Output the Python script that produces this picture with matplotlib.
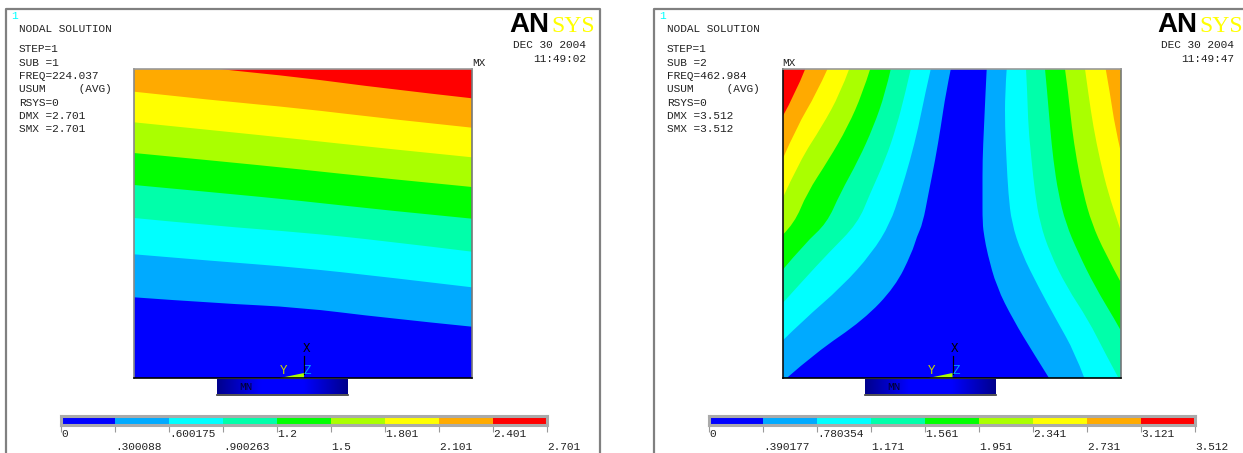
import numpy as np
import matplotlib
matplotlib.use("Agg")
import matplotlib.pyplot as plt
from matplotlib.colors import LinearSegmentedColormap
from matplotlib.patches import PathPatch
from matplotlib.path import Path

W, H = 1243, 453

# contour colours, lowest band first
band_colors = ['#0000ff', '#00aaff', '#00ffff', '#00ffaa', '#00ff00',
               '#aaff00', '#ffff00', '#ffaa00', '#ff0000']

# left plot: depth of each band edge below the top of the plate
sub1_x = [0, 83, 166, 249, 338]
sub1_edges = [
    [228.3, 234.3, 238.3, 248.7, 257.7],
    [185.3, 192.3, 198.7, 207.7, 218.3],
    [149.0, 157.0, 163.3, 171.7, 182.7],
    [116.0, 123.7, 131.7, 141.0, 149.7],
    [84.0, 92.0, 100.3, 109.3, 118.0],
    [53.3, 61.7, 70.3, 79.3, 88.3],
    [22.7, 31.7, 39.3, 49.3, 58.7],
    [-10.0, 0.0, 8.3, 19.3, 29.3],
]

# right plot: band edges as (x, depth), left hand family
sub2_left_x = [
    [168.3, 163.3, 158.3, 152.7, 146.0, 140.3, 134.3, 129.3, 112.7, 81.0, 32.7, 4.3],
    [148.3, 142.7, 136.0, 127.7, 117.7, 107.7, 89.3, 59.3, 21.0, 0.0],
    [128.3, 122.7, 114.0, 102.7, 87.7, 75.3, 46.0, 21.0, 0.0],
    [108.3, 102.7, 91.0, 76.0, 57.7, 44.3, 22.7, 0.0],
    [87.7, 80.0, 65.3, 46.0, 24.3, 12.0, 0.0],
    [66.7, 57.7, 39.3, 17.7, 0.0],
    [45.0, 34.0, 14.3, 0.0],
    [22.7, 13.0, 0.0],
]
sub2_left_d = [
    [0, 24.3, 57.7, 91.0, 124.3, 154.3, 167.7, 184.0, 217.7, 251.0, 284.0, 309.0],
    [0, 24.3, 57.7, 91.0, 124.3, 154.3, 184.3, 217.7, 251.0, 271.7],
    [0, 24.3, 57.7, 91.0, 124.3, 154.3, 184.0, 211.0, 234.3],
    [0, 24.3, 57.7, 91.0, 124.3, 154.3, 174.0, 201.0],
    [0, 24.3, 57.7, 91.0, 124.3, 154.3, 166.0],
    [0, 24.3, 57.7, 91.0, 129.3],
    [0, 24.3, 57.7, 90.3],
    [0, 24.3, 47.7],
]

# right hand family, no red band on this side
sub2_right_x = [
    [204.2, 203.0, 201.5, 200.0, 200.0, 200.0, 201.8, 204.8, 214.0, 230.8, 250.8, 266.5],
    [224.2, 222.5, 222.5, 224.0, 225.8, 229.2, 239.0, 255.8, 274.0, 292.5, 301.8],
    [243.5, 244.8, 245.8, 249.0, 252.5, 257.5, 267.5, 284.0, 305.8, 322.5, 336.0],
    [262.5, 264.8, 267.5, 270.8, 275.8, 283.2, 295.8, 312.5, 332.5, 338.0],
    [282.5, 285.8, 289.2, 294.2, 300.8, 309.2, 322.5, 338.0],
    [302.5, 305.8, 310.8, 317.5, 325.8, 335.8, 338.0],
    [323.2, 327.5, 332.5, 338.0],
]
sub2_right_d = [
    [0, 24.3, 57.7, 91.0, 124.3, 154.3, 167.7, 184.0, 217.7, 251.0, 284.0, 309.0],
    [0, 24.3, 57.7, 91.0, 124.3, 154.3, 184.0, 217.7, 251.0, 284.0, 309.0],
    [0, 24.3, 57.7, 91.0, 124.3, 154.3, 184.0, 217.7, 251.0, 284.0, 309.0],
    [0, 24.3, 57.7, 91.0, 124.3, 154.3, 184.0, 217.7, 251.0, 261.0],
    [0, 24.3, 57.7, 91.0, 124.3, 154.3, 184.0, 212.7],
    [0, 24.3, 57.7, 91.0, 124.3, 154.3, 161.0],
    [0, 24.3, 57.7, 81.7],
]

# legend levels
sub1_levels = [0, 0.300088, 0.600175, 0.900263, 1.2, 1.5, 1.801, 2.101, 2.401, 2.701]
sub1_labels = ['0', '.300088', '.600175', '.900263', '1.2', '1.5', '1.801', '2.101', '2.401', '2.701']
sub2_levels = [0, 0.390177, 0.780354, 1.171, 1.561, 1.951, 2.341, 2.731, 3.121, 3.512]
sub2_labels = ['0', '.390177', '.780354', '1.171', '1.561', '1.951', '2.341', '2.731', '3.121', '3.512']

sub1_header = ['STEP=1', 'SUB =1', 'FREQ=224.037', 'USUM     (AVG)', 'RSYS=0', 'DMX =2.701', 'SMX =2.701']
sub2_header = ['STEP=1', 'SUB =2', 'FREQ=462.984', 'USUM     (AVG)', 'RSYS=0', 'DMX =3.512', 'SMX =3.512']
header_rows = [49.5, 63, 76, 89.5, 103, 116, 129.5]

MONO = 'Liberation Mono'
INK = '#222222'

fig = plt.figure(figsize=(W / 100, H / 100), dpi=100, facecolor='white')

# page layer in pixel units, used for frames and annotation text
page = fig.add_axes([0, 0, 1, 1])
page.set_xlim(0, W)
page.set_ylim(H, 0)
page.axis('off')


def px_axes(x0, y0, x1, y1):
    return fig.add_axes([x0 / W, 1 - y1 / H, (x1 - x0) / W, (y1 - y0) / H])


def fill_past_edge(ax, xs, ds, closing, color):
    # the edge runs as a soft curve, then the closing corners are joined straight
    verts = [(xs[0], ds[0])]
    codes = [Path.MOVETO]
    n = len(xs)
    for i in range(1, n - 1):
        if i < n - 2:
            end = ((xs[i] + xs[i + 1]) / 2, (ds[i] + ds[i + 1]) / 2)
        else:
            end = (xs[-1], ds[-1])
        verts += [(xs[i], ds[i]), end]
        codes += [Path.CURVE3, Path.CURVE3]
    if n == 2:
        verts.append((xs[1], ds[1]))
        codes.append(Path.LINETO)
    for corner in closing:
        verts.append(corner)
        codes.append(Path.LINETO)
    verts.append(verts[0])
    codes.append(Path.CLOSEPOLY)
    ax.add_patch(PathPatch(Path(verts, codes), facecolor=color, edgecolor='none', lw=0))


def draw_plate(x0, fill_plate, left_color):
    ax = px_axes(x0, 69, x0 + 338, 378)
    ax.set_xlim(0, 338)
    ax.set_ylim(309, 0)
    ax.set_xticks([])
    ax.set_yticks([])
    ax.set_facecolor(band_colors[0])
    fill_plate(ax)
    ax.spines['top'].set_color('#999999')
    ax.spines['bottom'].set_color('black')
    ax.spines['left'].set_color(left_color)
    ax.spines['right'].set_color('#777777')
    for side in ax.spines.values():
        side.set_linewidth(1.2)
    return ax


def fill_sub1(ax):
    # paint from the top band down, each layer covers what lies below its edge
    ax.fill_between(sub1_x, 0, 309, color=band_colors[8], lw=0)
    for k in range(7, -1, -1):
        fill_past_edge(ax, sub1_x, sub1_edges[k], [(338, 309), (0, 309)], band_colors[k])


def fill_sub2(ax):
    for k in range(8):
        closing = [(0, sub2_left_d[k][-1]), (0, 0)]
        fill_past_edge(ax, sub2_left_x[k], sub2_left_d[k], closing, band_colors[k + 1])
    for k in range(7):
        closing = [(338, sub2_right_d[k][-1]), (338, 0)]
        fill_past_edge(ax, sub2_right_x[k], sub2_right_d[k], closing, band_colors[k + 1])


def draw_legend(x0, levels, labels):
    ax = px_axes(x0, 416, x0 + 486, 425)
    ax.set_xlim(levels[0], levels[-1])
    ax.set_ylim(0, 1)
    ax.set_yticks([])
    ax.barh(0.5, np.diff(levels), left=levels[:-1], height=1, color=band_colors, lw=0)
    ax.set_xticks(levels)
    ax.set_xticklabels([])
    ax.tick_params(axis='x', length=5, width=0.8, color='#999999')
    for side in ax.spines.values():
        side.set_color('#aaaaaa')
        side.set_linewidth(2.2)
    trans = ax.get_xaxis_transform()
    for i, (lev, lab) in enumerate(zip(levels, labels)):
        row = -1.05 if i % 2 == 0 else -2.45
        ax.text(lev, row, lab, transform=trans, family=MONO, fontsize=8,
                color=INK, ha='left', va='center', clip_on=False)


def draw_page_notes(dx, header, date_time, mx_x):
    # drawing frame, open at the bottom of the page
    frame_x = [6 + dx, 6 + dx, 600 + dx, 600 + dx]
    page.plot(frame_x, [H, 9, 9, H], color='#808080', lw=1.6, clip_on=True)

    page.text(11 + dx, 16, '1', color='#00ffff', family=MONO, fontsize=8, va='center')
    page.text(19 + dx, 29, 'NODAL SOLUTION', color=INK, family=MONO, fontsize=8, va='center')
    for row, line in zip(header_rows, header):
        page.text(19 + dx, row, line, color=INK, family=MONO, fontsize=8, va='center')

    page.text(586 + dx, 45.5, date_time[0], color=INK, family=MONO, fontsize=8, ha='right', va='center')
    page.text(586 + dx, 59, date_time[1], color=INK, family=MONO, fontsize=8, ha='right', va='center')
    page.text(mx_x, 62.5, 'MX', color=INK, family=MONO, fontsize=8, va='center')

    # logo
    page.text(509 + dx, 32, 'AN', color='black', family='Liberation Sans', fontweight='bold',
              fontsize=20, ha='left', va='baseline')
    page.text(551.5 + dx, 32, 'SYS', color='#ffff00', family='Liberation Serif',
              fontsize=17, ha='left', va='baseline')


def draw_support(dx):
    # dark edged strip under the plate
    strip = px_axes(217 + dx, 379, 348 + dx, 394.5)
    shade = LinearSegmentedColormap.from_list('shade', ['#00008c', '#0000ff', '#0000ff', '#00008c'])
    strip.imshow(np.linspace(0, 1, 128)[None, :], cmap=shade, aspect='auto')
    strip.set_xticks([])
    strip.set_yticks([])
    for name, side in strip.spines.items():
        side.set_visible(name == 'bottom')
    strip.spines['bottom'].set_color('#333333')
    strip.spines['bottom'].set_linewidth(1.2)
    strip.text(0.22, 0.47, 'MN', transform=strip.transAxes, color='#000033', family=MONO,
               fontsize=8, ha='center', va='center')


def draw_triad(ax):
    # triad sits at the lower middle of the plate, in plate units
    ax.fill([146, 170, 170], [309, 304, 309], color='#aaff00', lw=0)
    ax.fill([164, 170, 170], [309, 308, 309], color='#00ffff', lw=0)
    ax.plot([170, 170], [287, 305], color='black', lw=0.9)
    ax.text(172.5, 280.5, 'X', color='black', family=MONO, fontsize=9, ha='center', va='center')
    ax.text(149.5, 302, 'Y', color='#c8d800', family=MONO, fontsize=9, ha='center', va='center')
    ax.text(173.5, 302, 'Z', color='#00a0ff', family=MONO, fontsize=9, ha='center', va='center')


# left result
plate1 = draw_plate(134, fill_sub1, '#888888')
draw_triad(plate1)
draw_support(0)
draw_legend(61, sub1_levels, sub1_labels)
draw_page_notes(0, sub1_header, ['DEC 30 2004', '11:49:02'], 472)

# right result
plate2 = draw_plate(782.5, fill_sub2, '#111111')
draw_triad(plate2)
draw_support(648)
draw_legend(709, sub2_levels, sub2_labels)
draw_page_notes(648, sub2_header, ['DEC 30 2004', '11:49:47'], 782.5)

fig.savefig('out.png', dpi=100)
